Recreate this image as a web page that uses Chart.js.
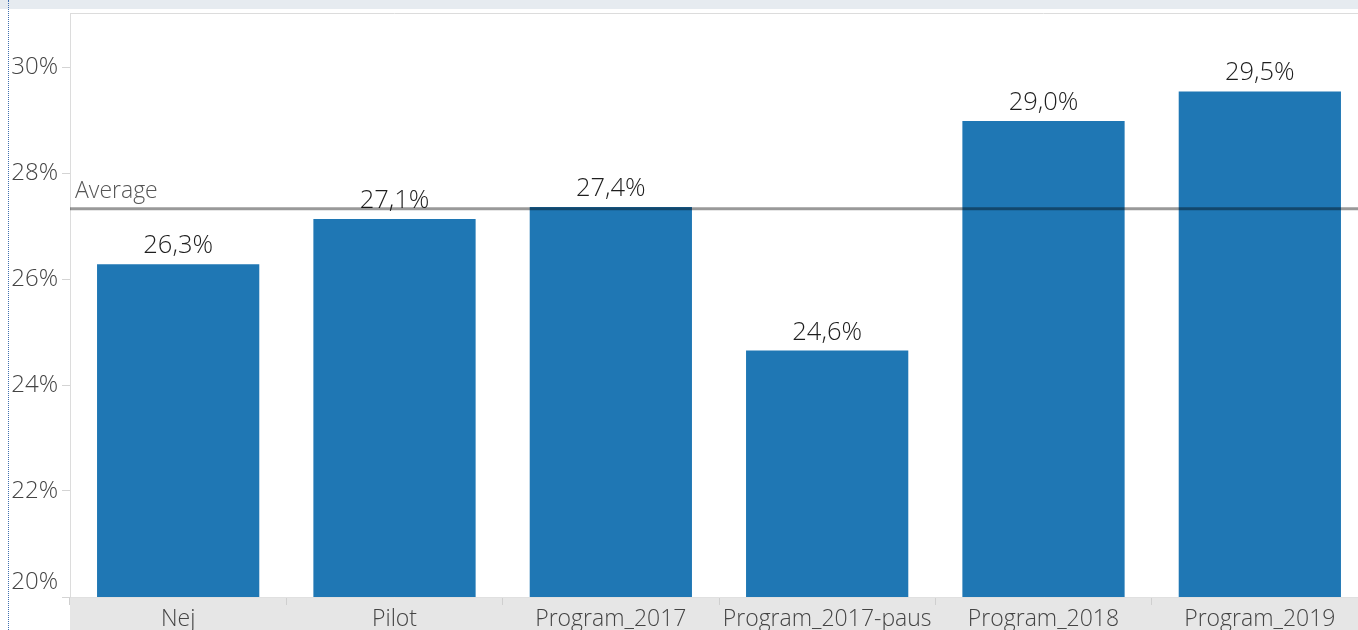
<!DOCTYPE html>
<html>
<head>
<meta charset="utf-8">
<script src="https://cdn.jsdelivr.net/npm/chart.js@4/dist/chart.umd.min.js"></script>
<style>
  html, body { margin: 0; padding: 0; background: #fff; overflow: hidden; }
  #wrap { position: relative; width: 1358px; height: 630px; overflow: hidden; }
  #band { position: absolute; left: 0; top: 0; width: 1358px; height: 9px; background: #e6ebf0; z-index: 2; }
  #dots { position: absolute; left: 8px; top: 0; height: 630px; border-left: 1px dotted #3f6fb0; z-index: 3; }
  canvas { position: absolute; left: 0; top: 0; }
</style>
</head>
<body>
<div id="wrap">
  <div id="band"></div>
  <div id="dots"></div>
  <canvas id="bar-chart" width="1368" height="645"></canvas>
</div>
<script>
// categories and values (percent)
const categories = ["Nej", "Pilot", "Program_2017", "Program_2017-paus", "Program_2018", "Program_2019"];
const values = [26.28, 27.13, 27.36, 24.65, 28.98, 29.54];
const yTicks = [20, 22, 24, 26, 28, 30];

const average = values.reduce((a, b) => a + b, 0) / values.length;

const fontFamily = "'Open Sans', 'Noto Sans', sans-serif";

function pct(v, digits) {
  return v.toFixed(digits).replace(".", ",") + "%";
}

// grey band under the x axis labels + top border of the pane
const paneBackground = {
  id: "paneBackground",
  beforeDraw(chart) {
    const { ctx, chartArea } = chart;
    ctx.save();
    ctx.fillStyle = "#e6e6e6";
    ctx.fillRect(chartArea.left, chartArea.bottom, chart.width - chartArea.left, chart.height - chartArea.bottom);
    ctx.strokeStyle = "#dcdcdc";
    ctx.lineWidth = 1;
    ctx.beginPath();
    ctx.moveTo(chartArea.left, chartArea.top - 0.5);
    ctx.lineTo(chart.width, chartArea.top - 0.5);
    ctx.stroke();
    ctx.restore();
  },
};

// value labels on top of bars, then the average reference line
const barLabels = {
  id: "barLabels",
  afterDatasetsDraw(chart) {
    const { ctx, chartArea } = chart;
    const meta = chart.getDatasetMeta(0);
    ctx.save();
    ctx.font = "300 25.5px " + fontFamily;
    ctx.fillStyle = "#1e1e1e";
    ctx.textAlign = "center";
    ctx.textBaseline = "alphabetic";
    meta.data.forEach((bar, i) => {
      ctx.fillText(pct(values[i], 1), bar.x, bar.y - 11);
    });

    const y = chart.scales.y.getPixelForValue(average);
    ctx.strokeStyle = "rgba(0,0,0,0.4)";
    ctx.lineWidth = 3;
    ctx.beginPath();
    ctx.moveTo(chartArea.left, y);
    ctx.lineTo(chartArea.right, y);
    ctx.stroke();

    ctx.font = "300 23px " + fontFamily;
    ctx.fillStyle = "#555";
    ctx.textAlign = "left";
    ctx.fillText("Average", chartArea.left + 5, y - 11);
    ctx.restore();
  },
};

new Chart(document.getElementById("bar-chart"), {
  type: "bar",
  data: {
    labels: categories,
    datasets: [
      {
        data: values,
        backgroundColor: "#1f77b4",
        barPercentage: 0.75,
        categoryPercentage: 1,
      },
    ],
  },
  options: {
    responsive: false,
    animation: false,
    devicePixelRatio: 1,
    layout: { padding: { top: 14, left: 0, right: 0, bottom: 0 } },
    plugins: {
      legend: { display: false },
      tooltip: { enabled: false },
    },
    scales: {
      x: {
        afterFit: (scale) => {
          scale.height = 48;
          scale.paddingLeft = 0;
          scale.paddingRight = 0;
        },
        grid: {
          offset: true,
          drawOnChartArea: false,
          drawTicks: true,
          tickLength: 8,
          color: "#cfcfcf",
        },
        border: { display: true, color: "#e0e0e0" },
        ticks: {
          color: "#444",
          font: { family: fontFamily, size: 23, weight: "300" },
          padding: 1,
          maxRotation: 0,
          autoSkip: false,
        },
      },
      y: {
        min: 20,
        max: 31,
        afterFit: (scale) => {
          scale.width = 70;
          scale.paddingTop = 0;
          scale.paddingBottom = 0;
        },
        afterBuildTicks: (scale) => {
          scale.ticks = yTicks.map((v) => ({ value: v }));
        },
        grid: {
          drawOnChartArea: false,
          drawTicks: true,
          tickLength: 8,
          color: "#d4d4d4",
        },
        border: { display: true, color: "#dcdcdc" },
        ticks: {
          color: "#444",
          font: { family: fontFamily, size: 24, weight: "300" },
          padding: 4,
          // bottom label sits above its tick, like in the pane
          callback: (v) => (v === 20 ? [v + "%", ""] : v + "%"),
        },
      },
    },
  },
  plugins: [paneBackground, barLabels],
});
</script>
</body>
</html>
